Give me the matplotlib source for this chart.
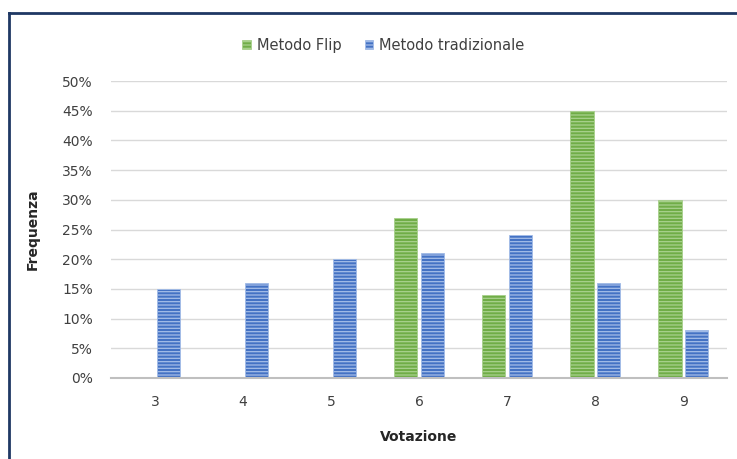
import numpy as np
import matplotlib.pyplot as plt
from matplotlib.lines import Line2D
from matplotlib.ticker import FuncFormatter

votes = [3, 4, 5, 6, 7, 8, 9]
flip = [0, 0, 0, 27, 14, 45, 30]
tradizionale = [15, 16, 20, 21, 24, 16, 8]
yticks = list(range(0, 55, 5))

plt.rcParams['font.family'] = ['DejaVu Sans']
plt.rcParams['hatch.linewidth'] = 0.9

fig = plt.figure(figsize=(7.37, 4.59), dpi=100)
ax = fig.add_axes([0.1506, 0.1765, 0.836, 0.647])

x = np.array(votes)
w = 0.27
ax.bar(x - 0.153, flip, w, color='#70AD47', edgecolor='#A9D18E', hatch='-----',
       linewidth=0.6, label='Metodo Flip', zorder=3)
ax.bar(x + 0.153, tradizionale, w, color='#4472C4', edgecolor='#A4BDE8', hatch='-----',
       linewidth=0.6, label='Metodo tradizionale', zorder=3)

ax.set_xlim(2.5, 9.5)
ax.set_ylim(0, 50)
ax.set_yticks(yticks)
ax.yaxis.set_major_formatter(FuncFormatter(lambda v, p: f'{int(v)}%'))
ax.set_xticks(votes)
ax.grid(axis='y', color='#D9D9D9', linewidth=1.0, zorder=0)
ax.tick_params(length=0, labelsize=10, colors='#404040')
ax.tick_params(axis='y', pad=13)
ax.tick_params(axis='x', pad=12)
for s in ['left', 'right', 'top']:
    ax.spines[s].set_visible(False)
ax.spines['bottom'].set_color('#BFBFBF')
ax.spines['bottom'].set_linewidth(1.5)
ax.spines['bottom'].set_zorder(4)

ax.set_ylabel('Frequenza', fontsize=10, fontweight='bold', color='#262626')
ax.set_xlabel('Votazione', fontsize=10, fontweight='bold', color='#262626')
ax.yaxis.set_label_coords(-0.116, 0.5)
ax.xaxis.set_label_coords(0.5, -0.175)

fig.legend(loc='center', bbox_to_anchor=(0.52, 0.901), ncol=2, frameon=False,
           fontsize=10.5, handlelength=0.6, handleheight=0.6, handletextpad=0.4,
           columnspacing=1.6, labelcolor='#404040')

# dark frame at left and top
fig.add_artist(Line2D([0.0118, 0.0118], [0.0, 0.9717], color='#1F3864', linewidth=2))
fig.add_artist(Line2D([0.0118, 1.0], [0.9717, 0.9717], color='#1F3864', linewidth=2))

fig.savefig('out.png', dpi=100)
